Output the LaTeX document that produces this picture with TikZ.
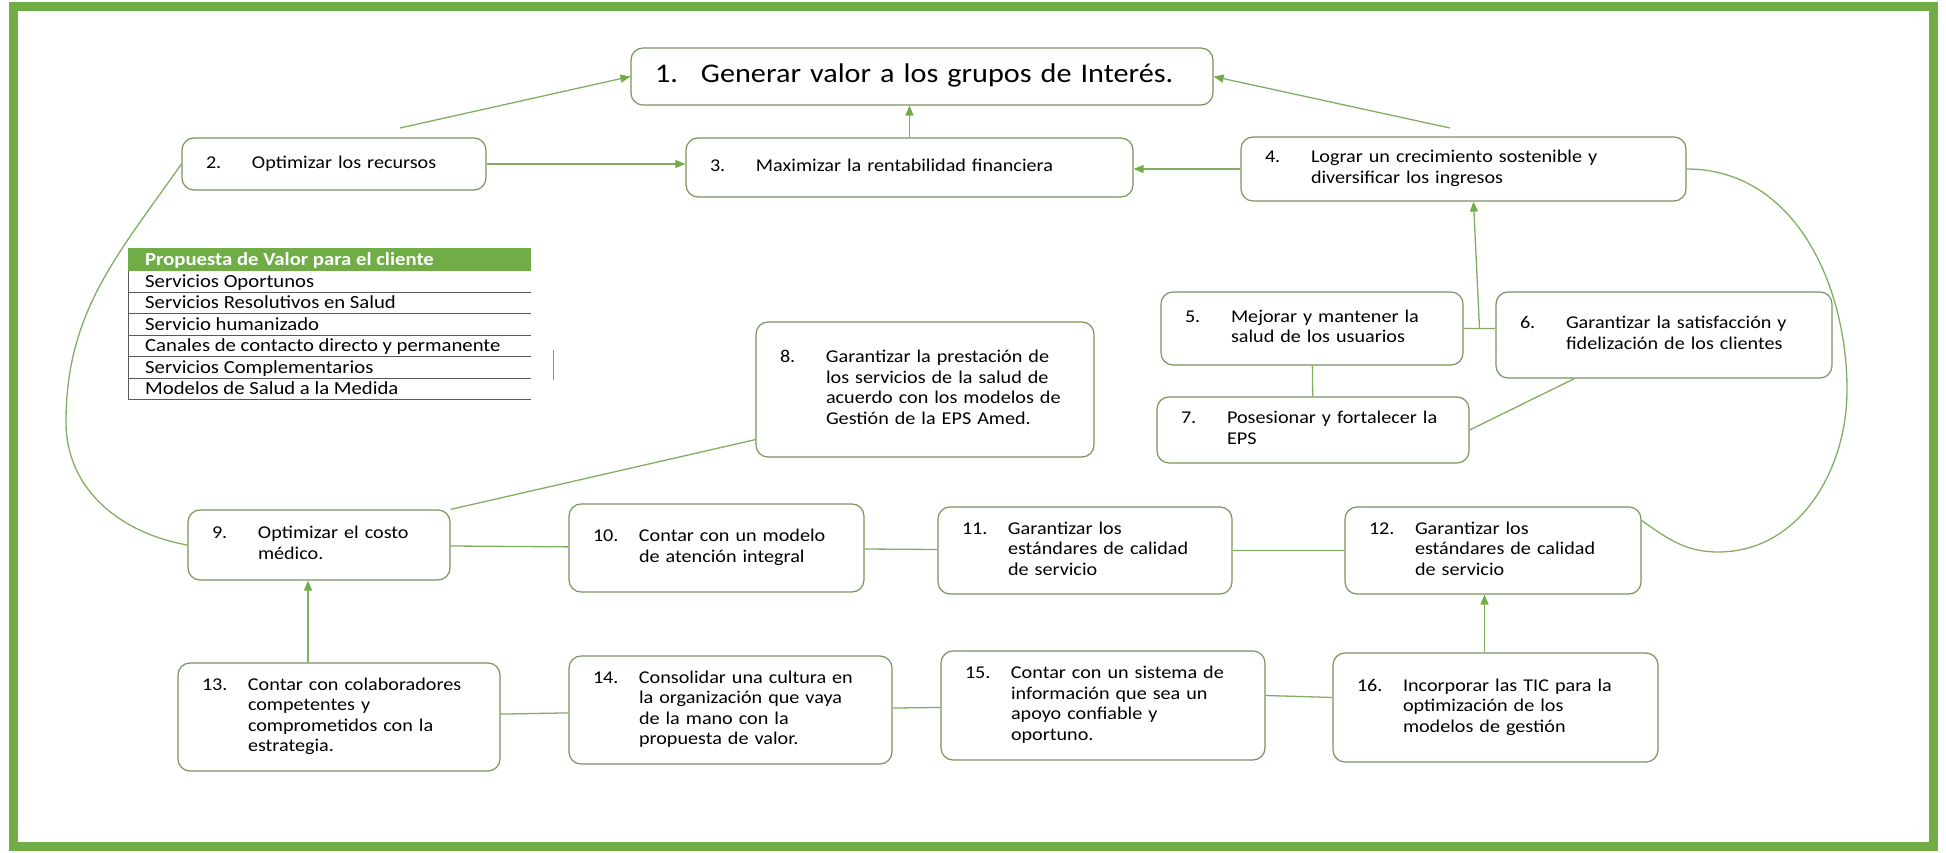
\documentclass[tikz,border=0pt]{standalone}
\usepackage{fontspec}
\setmainfont{Carlito}[FakeStretch=1.12]
\usetikzlibrary{arrows.meta,calc}
\definecolor{marco}{RGB}{112,173,71}
\definecolor{linea}{RGB}{128,175,98}
\definecolor{borde}{RGB}{118,150,92}
\newcommand{\obj}[2]{\begin{tabular}{@{}p{46pt}@{}l@{}}#1&#2\end{tabular}}

\begin{document}
\begin{tikzpicture}[x=1pt,y=1pt,
  box/.style 2 args={draw=borde,line width=1.2pt,rounded corners=12pt,fill=white,
    inner xsep=0pt,inner ysep=0pt,minimum width=#1pt,minimum height=#2pt,
    text width=#1pt-48pt,align=left,font=\fontsize{18}{20.5}\selectfont},
  lin/.style={draw=linea,line width=1.3pt},
  arr/.style={lin,-{Triangle[length=10pt,width=8pt,color=marco]}},
  tline/.style={draw=black!65,line width=0.9pt},
  fila/.style={anchor=base west,inner sep=0pt,font=\fontsize{18.5}{20}\selectfont}]
\useasboundingbox (0,0) rectangle (1946,852);
\draw[marco,line width=9pt] (13,6) rectangle (1933,845);
% objetivos
\node[box={582}{57},font=\fontsize{27}{32}\selectfont] (b1) at (922,775.5) {\obj{1.}{Generar valor a los grupos de Interés.}};
\node[box={304}{52}] (b2) at (334,688) {\obj{2.}{Optimizar los recursos}};
\node[box={447}{59}] (b3) at (909.5,684.5) {\obj{3.}{Maximizar la rentabilidad financiera}};
\node[box={445}{64}] (b4) at (1463.5,683) {\obj{4.}{Lograr un crecimiento sostenible y\\&diversificar los ingresos}};
\node[box={302}{73}] (b5) at (1312,523.5) {\obj{5.}{Mejorar y mantener la\\&salud de los usuarios}};
\node[box={336}{86}] (b6) at (1664,517) {\obj{6.}{Garantizar la satisfacción y\\&fidelización de los clientes}};
\node[box={312}{66}] (b7) at (1313,422) {\obj{7.}{Posesionar y fortalecer la\\&EPS}};
\node[box={338}{135}] (b8) at (925,462.5) {\obj{8.}{Garantizar la prestación de\\&los servicios de la salud de\\&acuerdo con los modelos de\\&Gestión de la EPS Amed.}};
\node[box={262}{70}] (b9) at (319,307) {\obj{9.}{Optimizar el costo\\&médico.}};
\node[box={295}{88}] (b10) at (716.5,304) {\obj{10.}{Contar con un modelo\\&de atención integral}};
\node[box={294}{87}] (b11) at (1085,301.5) {\obj{11.}{Garantizar los\\&estándares de calidad\\&de servicio}};
\node[box={296}{87}] (b12) at (1493,301.5) {\obj{12.}{Garantizar los\\&estándares de calidad\\&de servicio}};
\node[box={322}{108}] (b13) at (339,135) {\obj{13.}{Contar con colaboradores\\&competentes y\\&comprometidos con la\\&estrategia.}};
\node[box={323}{108}] (b14) at (730.5,142) {\obj{14.}{Consolidar una cultura en\\&la organización que vaya\\&de la mano con la\\&propuesta de valor.}};
\node[box={324}{109}] (b15) at (1103,146.5) {\obj{15.}{Contar con un sistema de\\&información que sea un\\&apoyo confiable y\\&oportuno.}};
\node[box={325}{109}] (b16) at (1495.5,144.5) {\obj{16.}{Incorporar las TIC para la\\&optimización de los\\&modelos de gestión}};
% propuesta de valor
\fill[marco] (128,604) rectangle (531,581);
\node[fila,text=white,font=\fontsize{18.5}{20}\selectfont\bfseries] (th) at (145,586) {Propuesta de Valor para el cliente};
\node[fila] (r1) at (145,564) {Servicios Oportunos};
\node[fila] (r2) at (145,543) {Servicios Resolutivos en Salud};
\node[fila] (r3) at (145,521) {Servicio humanizado};
\node[fila] (r4) at (145,500) {Canales de contacto directo y permanente};
\node[fila] (r5) at (145,478) {Servicios Complementarios};
\node[fila] (r6) at (145,457) {Modelos de Salud a la Medida};
\draw[tline] (128,581) -- (128,453)
  (128,560) -- (531,560)
  (128,539) -- (531,539)
  (128,517) -- (531,517)
  (128,496) -- (531,496)
  (128,474) -- (531,474)
  (128,453) -- (531,453);
\draw[tline,black!45] (553,502) -- (553,472);
% conectores
\coordinate (p1) at (400,724);
\coordinate (p4) at (1450,724);
\coordinate (p56) at ($(b5.east)!0.5!(b5.east -| b6.west)$);
\coordinate (q1) at (1847,462);
\coordinate (q2) at (1718,300);
\coordinate (q3) at (66,430);
\draw[arr] (p1) -- (b1.west);
\draw[arr] (b3.north) -- (b3.north |- b1.south);
\draw[arr] (p4) -- (b1.east);
\draw[arr] (b2.east) -- (b2.east -| b3.west);
\draw[arr] (b4.west) -- (b4.west -| b3.east);
\draw[arr] (p56) -- ([xshift=10pt]b4.south);
\draw[arr] ([xshift=-31pt]b13.north) -- ([xshift=-31pt]b13.north |- b9.south);
\draw[arr] ([xshift=-11pt]b16.north) -- ([xshift=-11pt]b16.north |- b12.south);
\draw[lin] (b5.east) -- (b5.east -| b6.west)
  (b5) -- (b7)
  (b7.east) -- ([xshift=79pt]b6.south west)
  ([yshift=18pt]b8.south west) -- (b9.north east)
  (b9) -- (b10)
  (b10) -- (b11)
  (b11) -- (b12)
  (b13) -- (b14)
  (b14) -- (b15)
  ([yshift=10pt]b15.east) -- ([yshift=10pt]b16.west);
\draw[lin] (b4.east) to[out=0,in=90] (q1) to[out=-90,in=0] (q2) to[out=180,in=-35] ([yshift=30pt]b12.east);
\draw[lin] (b2.west) to[out=235,in=90] (q3) to[out=-90,in=170] (b9.west);
\end{tikzpicture}
\end{document}
